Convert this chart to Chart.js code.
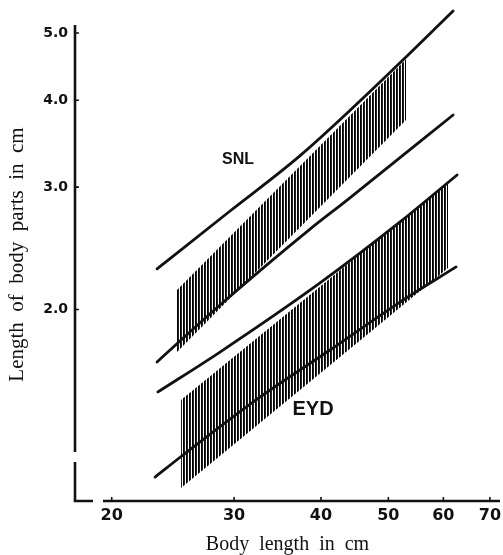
<!DOCTYPE html>
<html>
<head>
<meta charset="utf-8">
<script src="https://cdn.jsdelivr.net/npm/chart.js@4.4.0/dist/chart.umd.min.js"></script>
<style>
html, body { margin: 0; padding: 0; background: #fff; }
#wrap { width: 503px; height: 555px; }
</style>
</head>
<body>
<div id="wrap"><canvas id="chart"></canvas></div>
<script>
// body length (cm) vs length of body part (cm)
var snlUpperX = [23.24, 29.60, 37.33, 53.20, 61.96];
var snlUpperY = [2.288, 2.772, 3.330, 4.632, 5.377];
var snlLowerX = [23.24, 28.63, 38.58, 43.62, 61.96];
var snlLowerY = [1.681, 2.030, 2.611, 2.874, 3.810];
var eydUpperX = [23.31, 28.63, 39.88, 51.98, 62.79];
var eydUpperY = [1.522, 1.737, 2.184, 2.673, 3.123];
var eydLowerX = [23.09, 25.33, 31.94, 41.22, 51.98, 62.58];
var eydLowerY = [1.148, 1.235, 1.472, 1.749, 2.050, 2.303];

// hatched bands (x range, upper edge, lower edge)
var snlBandX = [24.83, 53.03];
var snlBandTop = [2.134, 4.586];
var snlBandBottom = [1.737, 3.747];
var eydBandX = [25.16, 60.95];
var eydBandTop = [1.482, 3.051];
var eydBandBottom = [1.107, 2.295];

var xTicks = [20, 30, 40, 50, 60, 70];
var yTicks = [2, 3, 4, 5];
var bandNames = ['SNL', 'EYD'];
var bandNameX = [30.39, 38.96];
var bandNameY = [3.282, 1.434];

function pts(xs, ys) {
    return xs.map(function(x, i) { return {x: x, y: ys[i]}; });
}

function hatch() {
    var c = document.createElement('canvas');
    c.width = 3; c.height = 4;
    var g = c.getContext('2d');
    g.fillStyle = '#fff'; g.fillRect(0, 0, 3, 4);
    g.fillStyle = '#000'; g.fillRect(0, 0, 1, 4);
    g.fillStyle = '#222'; g.fillRect(1, 0, 1, 4);
    return g.createPattern(c, 'repeat');
}

function line(xs, ys) {
    return {
        data: pts(xs, ys),
        borderColor: '#111',
        borderWidth: 2.8,
        borderCapStyle: 'round',
        pointRadius: 0,
        fill: false,
        cubicInterpolationMode: 'monotone'
    };
}

function edge(xs, ys, fill) {
    return {
        data: pts(xs, ys),
        borderColor: 'rgba(0,0,0,0)',
        borderWidth: 1,
        pointRadius: 0,
        fill: fill,
        backgroundColor: fill ? hatch() : 'rgba(0,0,0,0)'
    };
}

var axesPlugin = {
    id: 'axes',
    afterDraw: function(chart) {
        var ctx = chart.ctx, a = chart.chartArea;
        var xs = chart.scales.x, ys = chart.scales.y;
        ctx.save();
        ctx.strokeStyle = '#111';
        ctx.lineWidth = 2.6;
        ctx.beginPath();
        // y axis with a break near the bottom
        ctx.moveTo(a.left, a.top + 17);
        ctx.lineTo(a.left, a.bottom - 49);
        ctx.moveTo(a.left, a.bottom - 39);
        ctx.lineTo(a.left, a.bottom);
        ctx.lineTo(a.left + 18, a.bottom);
        // x axis after its break
        ctx.moveTo(a.left + 28, a.bottom);
        ctx.lineTo(a.right, a.bottom);
        ctx.stroke();

        ctx.lineWidth = 1.6;
        ctx.beginPath();
        yTicks.forEach(function(v) {
            var p = ys.getPixelForValue(v);
            ctx.moveTo(a.left, p);
            ctx.lineTo(a.left + 4, p);
        });
        xTicks.forEach(function(v) {
            var p = xs.getPixelForValue(v);
            ctx.moveTo(p, a.bottom);
            ctx.lineTo(p, a.bottom - 4);
        });
        ctx.stroke();

        ctx.fillStyle = '#111';
        ctx.textAlign = 'center';
        ctx.textBaseline = 'middle';
        bandNames.forEach(function(name, i) {
            ctx.font = 'bold ' + (i === 0 ? 16 : 20) + 'px "Liberation Sans"';
            ctx.fillText(name, xs.getPixelForValue(bandNameX[i]), ys.getPixelForValue(bandNameY[i]));
        });
        ctx.restore();
    }
};

var chart = new Chart(document.getElementById('chart'), {
    type: 'line',
    data: {
        datasets: [
            line(snlUpperX, snlUpperY),
            line(snlLowerX, snlLowerY),
            line(eydUpperX, eydUpperY),
            line(eydLowerX, eydLowerY),
            edge(snlBandX, snlBandTop, '+1'),
            edge(snlBandX, snlBandBottom, false),
            edge(eydBandX, eydBandTop, '+1'),
            edge(eydBandX, eydBandBottom, false)
        ]
    },
    options: {
        responsive: true,
        maintainAspectRatio: false,
        animation: false,
        layout: { padding: { left: 0, right: 3, top: 8, bottom: 0 } },
        plugins: {
            legend: { display: false },
            tooltip: { enabled: false }
        },
        scales: {
            x: {
                type: 'logarithmic',
                min: 17.71,
                max: 72.38,
                grid: { display: false, drawTicks: false },
                border: { display: false },
                afterBuildTicks: function(s) {
                    s.ticks = xTicks.map(function(v) { return {value: v}; });
                },
                afterFit: function(s) {
                    s.height = 54;
                    s.paddingLeft = 0;
                    s.paddingRight = 0;
                },
                ticks: {
                    autoSkip: false,
                    maxRotation: 0,
                    padding: 5,
                    color: '#111',
                    font: { family: 'DejaVu Sans', weight: 'bold', size: 16 },
                    callback: function(v) { return String(v); }
                },
                title: {
                    display: true,
                    text: 'Body  length  in  cm',
                    color: '#111',
                    font: { family: 'Liberation Serif', size: 20, lineHeight: 1 },
                    padding: { top: 0, bottom: 0 }
                }
            },
            y: {
                type: 'logarithmic',
                min: 1.0604,
                max: 5.431,
                grid: { display: false, drawTicks: false },
                border: { display: false },
                afterBuildTicks: function(s) {
                    s.ticks = yTicks.map(function(v) { return {value: v}; });
                },
                afterFit: function(s) {
                    s.width = 75;
                    s.paddingTop = 0;
                    s.paddingBottom = 0;
                },
                ticks: {
                    autoSkip: false,
                    padding: 7,
                    color: '#111',
                    font: { family: 'DejaVu Sans', weight: 'bold', size: 14 },
                    callback: function(v) { return Number(v).toFixed(1); }
                },
                title: {
                    display: true,
                    text: 'Length  of  body  parts  in  cm',
                    color: '#111',
                    font: { family: 'Liberation Serif', size: 21 },
                    padding: { top: 5, bottom: 0 }
                }
            }
        }
    },
    plugins: [axesPlugin]
});
</script>
</body>
</html>
